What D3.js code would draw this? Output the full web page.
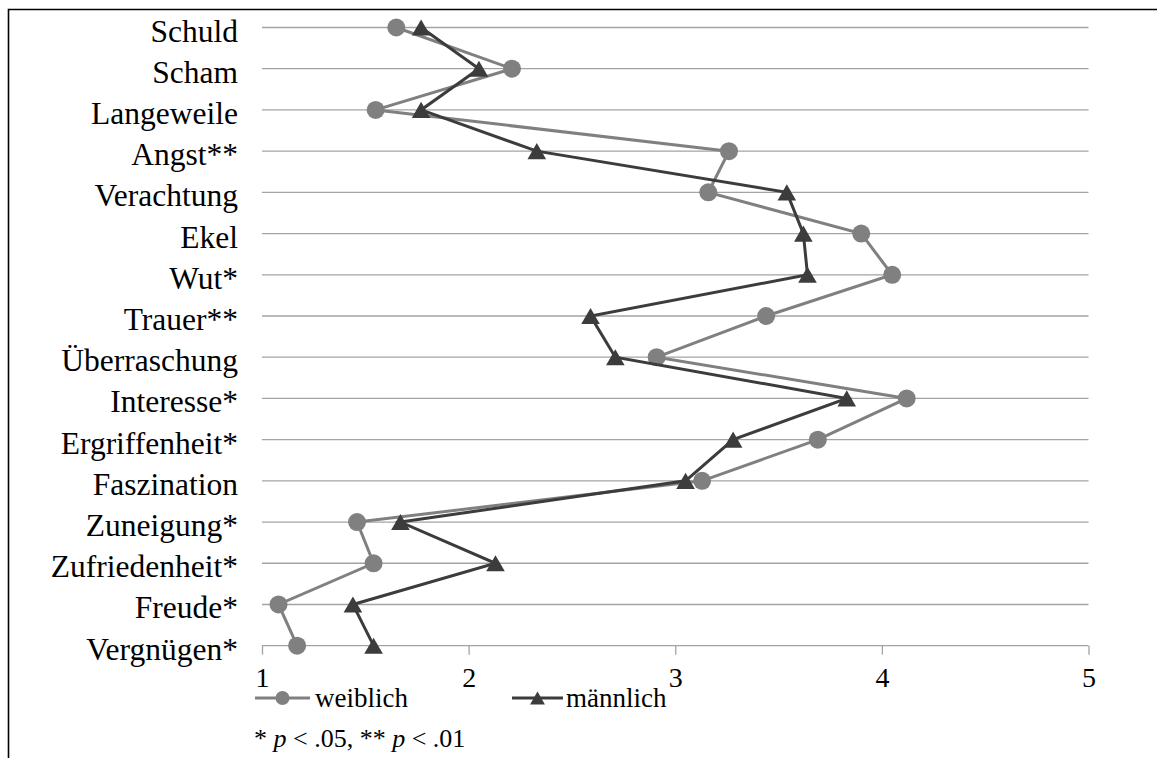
<!DOCTYPE html>
<html>
<head>
<meta charset="utf-8">
<script src="https://cdn.jsdelivr.net/npm/d3@7"></script>
<style>
  html, body { margin: 0; padding: 0; background: #fff; }
  svg { display: block; }
  svg text { font-family: "Liberation Serif", "Times New Roman", serif !important; }
</style>
</head>
<body>
<svg id="chart" width="1157" height="758"></svg>
<script>
// categories top to bottom
const categories = ["Schuld", "Scham", "Langeweile", "Angst**", "Verachtung", "Ekel", "Wut*",
  "Trauer**", "Überraschung", "Interesse*", "Ergriffenheit*", "Faszination", "Zuneigung*",
  "Zufriedenheit*", "Freude*", "Vergnügen*"];

// mean ratings
const weiblich = [1.65, 2.21, 1.55, 3.26, 3.16, 3.90, 4.05, 3.44, 2.91, 4.12, 3.69, 3.13, 1.46, 1.54, 1.08, 1.17];
const maennlich = [1.77, 2.05, 1.77, 2.33, 3.54, 3.62, 3.64, 2.59, 2.71, 3.83, 3.28, 3.05, 1.67, 2.13, 1.44, 1.54];

const xTicks = [1, 2, 3, 4, 5];
const seriesNames = ["weiblich", "männlich"];

const svg = d3.select("#chart");

const x = d3.scaleLinear().domain([1, 5]).range([262, 1088.5]);
const y = d3.scalePoint().domain(categories).range([27.5, 645.7]);

const grey = "#808080";
const dark = "#3c3c3c";

// outer frame (right and bottom edges fall outside the picture)
svg.append("path")
  .attr("d", "M8.5,770 V9.5 H1170")
  .attr("fill", "none")
  .attr("stroke", "#000")
  .attr("stroke-width", 1.6);

// horizontal gridlines, one per category
svg.append("g")
  .selectAll("line")
  .data(categories)
  .join("line")
    .attr("x1", x(1))
    .attr("x2", x(5))
    .attr("y1", d => y(d))
    .attr("y2", d => y(d))
    .attr("stroke", "#a3a3a3")
    .attr("stroke-width", 1.3);

// bottom axis, ticks only
const xAxis = svg.append("g")
  .attr("transform", `translate(0,${y(categories[categories.length - 1])})`)
  .call(d3.axisBottom(x).tickValues(xTicks).tickSize(9).tickSizeOuter(0).tickFormat(d3.format("d")));
xAxis.select(".domain").remove();
xAxis.selectAll(".tick line").attr("stroke", "#a3a3a3").attr("stroke-width", 1.3);
xAxis.selectAll(".tick text")
  .attr("fill", "#000")
  .attr("font-size", 28)
  .attr("dy", null)
  .attr("y", 41);

// category labels
svg.append("g")
  .selectAll("text")
  .data(categories)
  .join("text")
    .attr("x", 238)
    .attr("y", d => y(d) + 14)
    .attr("text-anchor", "end")
    .attr("font-size", 31.5)
    .attr("fill", "#000")
    .text(d => d);

// triangle with its bounding box centred on the point
const triangle = {
  draw(ctx, size) {
    const s = Math.sqrt(size * 4 / Math.sqrt(3));
    const h = s * Math.sqrt(3) / 2;
    ctx.moveTo(0, -h / 2);
    ctx.lineTo(s / 2, h / 2);
    ctx.lineTo(-s / 2, h / 2);
    ctx.closePath();
  }
};

const line = d3.line()
  .x(d => x(d.v))
  .y(d => y(d.c));

const wData = categories.map((c, i) => ({c, v: weiblich[i]}));
const mData = categories.map((c, i) => ({c, v: maennlich[i]}));

// weiblich
svg.append("path")
  .datum(wData)
  .attr("d", line)
  .attr("fill", "none")
  .attr("stroke", grey)
  .attr("stroke-width", 3);

svg.append("g")
  .selectAll("circle")
  .data(wData)
  .join("circle")
    .attr("cx", d => x(d.v))
    .attr("cy", d => y(d.c))
    .attr("r", 9)
    .attr("fill", grey);

// männlich
svg.append("path")
  .datum(mData)
  .attr("d", line)
  .attr("fill", "none")
  .attr("stroke", dark)
  .attr("stroke-width", 3);

svg.append("g")
  .selectAll("path")
  .data(mData)
  .join("path")
    .attr("transform", d => `translate(${x(d.v)},${y(d.c)})`)
    .attr("d", d3.symbol().type(triangle).size(150))
    .attr("fill", dark);

// legend
const legend = svg.append("g");
legend.append("rect")
  .attr("x", 250).attr("y", 689).attr("width", 430).attr("height", 22)
  .attr("fill", "#fff");

const legendItems = [
  {name: seriesNames[0], color: grey, x0: 255, x1: 310, marker: "circle", tx: 315},
  {name: seriesNames[1], color: dark, x0: 512, x1: 563, marker: "triangle", tx: 566}
];
legendItems.forEach(it => {
  const g = legend.append("g");
  g.append("line")
    .attr("x1", it.x0).attr("x2", it.x1)
    .attr("y1", 698).attr("y2", 698)
    .attr("stroke", it.color).attr("stroke-width", 3);
  if (it.marker === "circle") {
    g.append("circle").attr("cx", (it.x0 + it.x1) / 2).attr("cy", 698).attr("r", 7).attr("fill", it.color);
  } else {
    g.append("path")
      .attr("transform", `translate(${(it.x0 + it.x1) / 2},698)`)
      .attr("d", d3.symbol().type(triangle).size(95))
      .attr("fill", it.color);
  }
  g.append("text")
    .attr("x", it.tx).attr("y", 707)
    .attr("font-size", 27)
    .attr("fill", "#000")
    .text(it.name);
});

// footnote
const note = svg.append("text")
  .attr("x", 254).attr("y", 747)
  .attr("font-size", 26)
  .attr("fill", "#000");
note.append("tspan").text("* ");
note.append("tspan").attr("font-style", "italic").text("p");
note.append("tspan").text(" < .05, ** ");
note.append("tspan").attr("font-style", "italic").text("p");
note.append("tspan").text(" < .01");
</script>
</body>
</html>
